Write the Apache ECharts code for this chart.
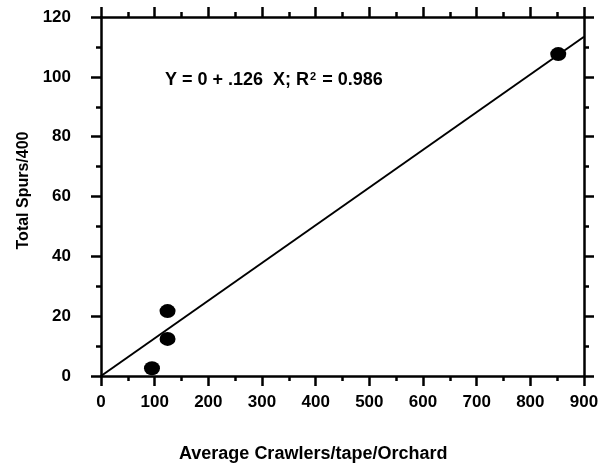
<!DOCTYPE html>
<html>
<head>
<meta charset="utf-8" />
<title>Total Spurs vs Crawlers</title>
<script src="https://cdn.jsdelivr.net/npm/echarts@6/dist/echarts.min.js"></script>
<style>
	html, body { margin: 0; padding: 0; background: #fff; }
	#chart { width: 608px; height: 466px; }
</style>
</head>
<body>
<div id="chart"></div>
<script>
	// observed points
	var crawlers = [95, 124, 124, 852];
	var spurs = [2.6, 12.4, 21.7, 107.6];

	// fitted line Y = a + b X
	var intercept = 0;
	var slope = 0.126;
	var fitX = [0, 900];

	var xTicks = [0, 100, 200, 300, 400, 500, 600, 700, 800, 900];
	var yTicks = [0, 20, 40, 60, 80, 100, 120];

	var font = "'Liberation Sans', Arial, sans-serif";

	var points = crawlers.map(function(x, i) { return [x, spurs[i]]; });
	var fitLine = fitX.map(function(x) { return [x, intercept + slope * x]; });

	var axisLine = { show: true, onZero: false, lineStyle: { color: '#000', width: 2.5 } };
	var tick = { show: true, inside: false, length: 10, lineStyle: { color: '#000', width: 2.5 } };
	var minor = { show: true, splitNumber: 2, length: 5, lineStyle: { color: '#000', width: 2.5 } };

	var chart = echarts.init(document.getElementById('chart'));
	chart.setOption({
		animation: false,
		backgroundColor: '#fff',
		textStyle: { fontFamily: font },
		grid: { left: 101, right: 24, top: 17, bottom: 90 },
		title: [{
			text: 'Average Crawlers/tape/Orchard',
			left: 174,
			top: 440,
			textStyle: { fontFamily: font, fontWeight: 'bold', fontSize: 18, color: '#000' }
		}, {
			text: 'Y = 0 + .126  X; R{sup|2} = 0.986',
			left: 160,
			top: 66,
			textStyle: {
				fontFamily: font, fontWeight: 'bold', fontSize: 18, color: '#000',
				rich: {
					sup: { fontFamily: font, fontWeight: 'bold', fontSize: 11, color: '#000', verticalAlign: 'top', padding: [0, 1, 8, 1] }
				}
			}
		}],
		xAxis: [{
			type: 'value',
			position: 'bottom',
			min: xTicks[0],
			max: xTicks[xTicks.length - 1],
			interval: 100,
			axisLine: axisLine,
			axisTick: tick,
			minorTick: minor,
			splitLine: { show: false },
			axisLabel: { margin: 18, fontSize: 17, fontWeight: 'bold', color: '#000', fontFamily: font }
		}, {
			type: 'value',
			position: 'top',
			min: xTicks[0],
			max: xTicks[xTicks.length - 1],
			interval: 100,
			axisLine: axisLine,
			axisTick: tick,
			minorTick: minor,
			splitLine: { show: false },
			axisLabel: { show: false }
		}],
		yAxis: [{
			type: 'value',
			position: 'left',
			min: yTicks[0],
			max: yTicks[yTicks.length - 1],
			interval: 20,
			name: 'Total Spurs/400',
			nameLocation: 'middle',
			nameGap: 68,
			nameTextStyle: { fontSize: 16, fontWeight: 'bold', color: '#000', fontFamily: font, padding: [0, 0, 0, 12] },
			axisLine: axisLine,
			axisTick: tick,
			minorTick: minor,
			splitLine: { show: false },
			axisLabel: { margin: 30, fontSize: 17, fontWeight: 'bold', color: '#000', fontFamily: font }
		}, {
			type: 'value',
			position: 'right',
			min: yTicks[0],
			max: yTicks[yTicks.length - 1],
			interval: 20,
			axisLine: axisLine,
			axisTick: tick,
			minorTick: minor,
			splitLine: { show: false },
			axisLabel: { show: false }
		}],
		series: [{
			type: 'line',
			data: fitLine,
			showSymbol: false,
			symbol: 'none',
			lineStyle: { color: '#000', width: 2 },
			z: 2
		}, {
			type: 'scatter',
			data: points,
			symbol: 'circle',
			symbolSize: [16, 14],
			itemStyle: { color: '#000', opacity: 1 },
			z: 3
		}]
	});
</script>
</body>
</html>
